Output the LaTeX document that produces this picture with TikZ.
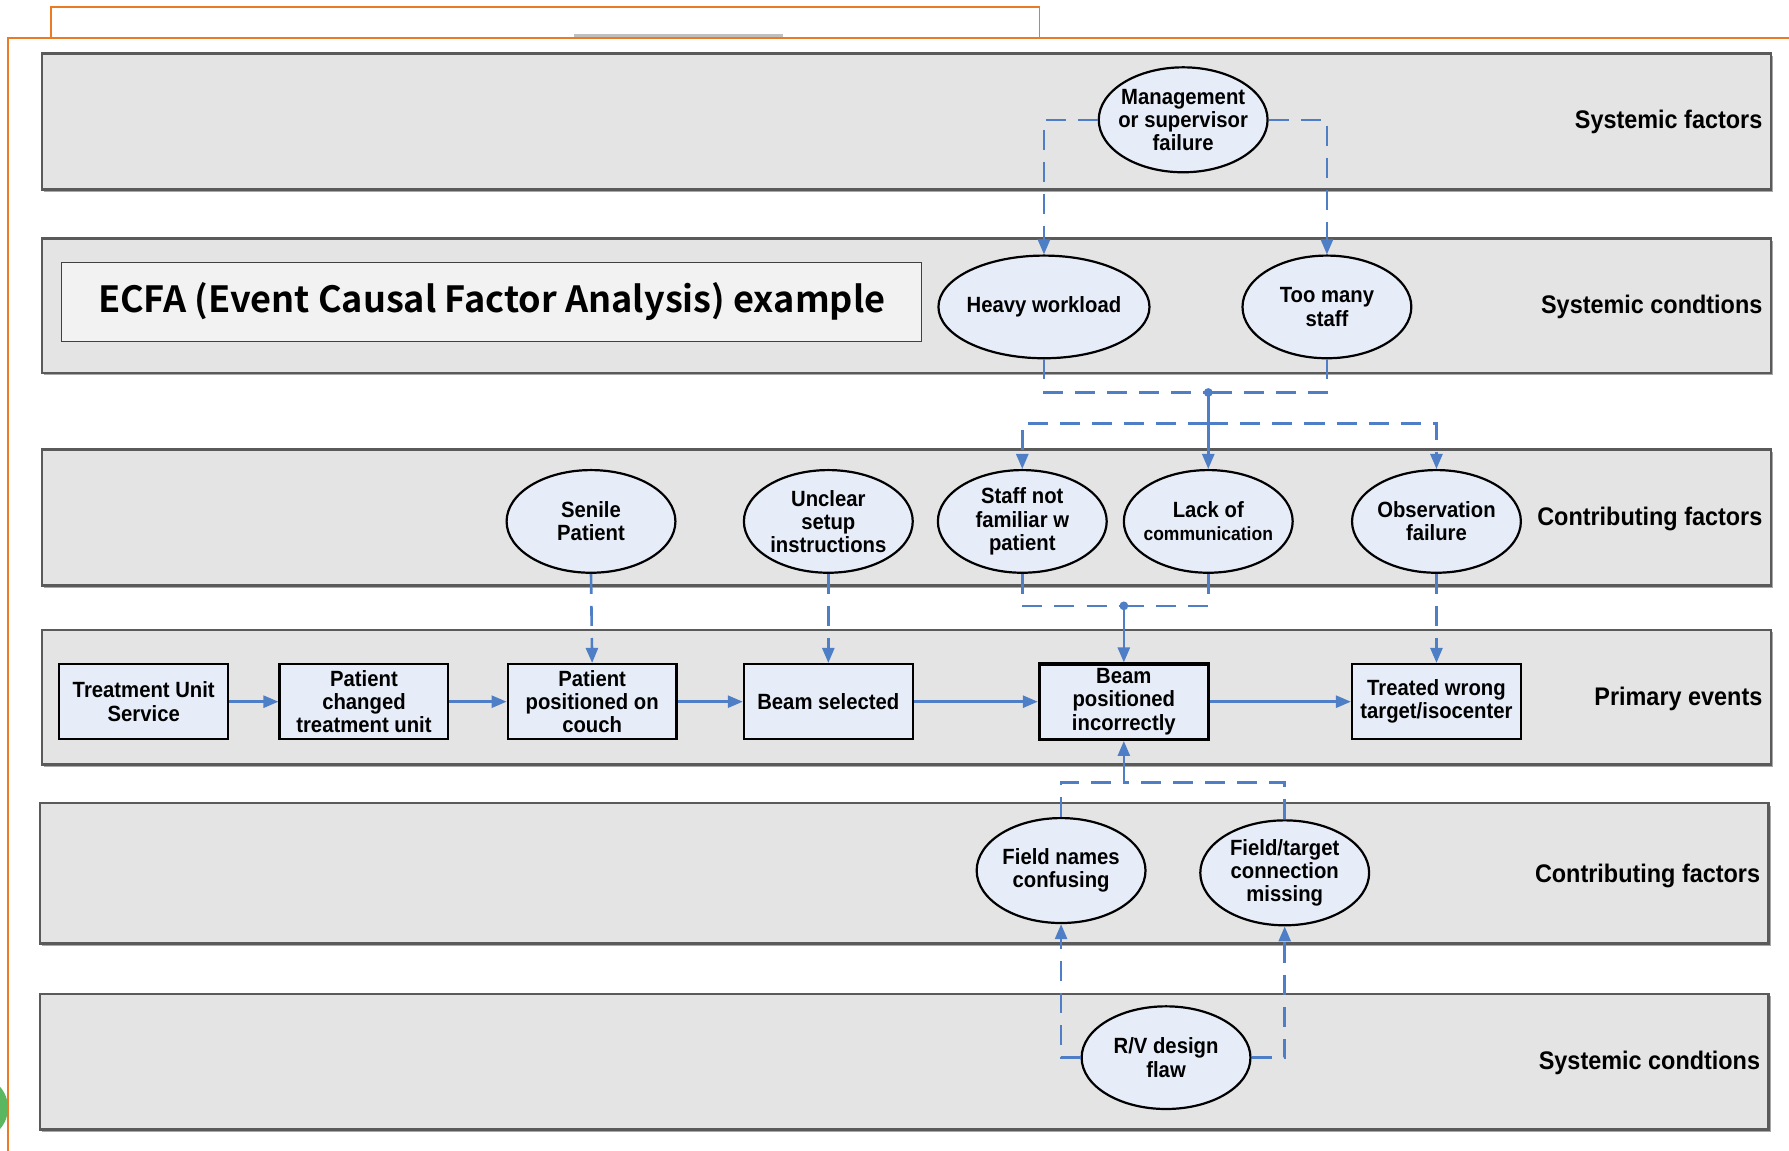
\documentclass[tikz,border=0pt]{standalone}
\usepackage{fontspec}
\setmainfont{Liberation Sans}[FakeStretch=0.92]
\newfontfamily\titlefont{Noto Sans CJK KR}[BoldFont={Noto Sans CJK KR Bold}]
\usetikzlibrary{shapes.geometric,arrows.meta}
\definecolor{lanefill}{HTML}{E4E4E4}
\definecolor{lanedraw}{HTML}{5A5A5A}
\definecolor{laneshadow}{HTML}{A8A8A8}
\definecolor{nodefill}{HTML}{E7EDF8}
\definecolor{linkblue}{HTML}{4E7EC6}
\definecolor{frameorange}{HTML}{EB7A25}
\definecolor{dotgreen}{HTML}{5BB75F}
\begin{document}
\begin{tikzpicture}[x=0.02cm,y=-0.02cm,
  >={Triangle[length=7.5pt,width=6pt]},
  lane/.style={fill=lanefill,draw=lanedraw,line width=1.2pt},
  lanelabel/.style={anchor=east,inner sep=0pt,font=\fontsize{12.7}{14}\selectfont\bfseries},
  cause/.style={ellipse,draw=black,line width=1.1pt,fill=nodefill,
    minimum width=2.96cm,minimum height=1.8cm,inner xsep=-0.5cm,inner ysep=-0.3cm,
    align=center,font=\fontsize{11}{11.6}\selectfont\bfseries},
  event/.style={rectangle,draw=black,line width=1.1pt,fill=nodefill,
    minimum width=2.96cm,minimum height=1.32cm,inner sep=0pt,align=center,
    font=\fontsize{11}{11.6}\selectfont\bfseries},
  link/.style={draw=linkblue,line width=1.3pt},
  dlink/.style={link,dash pattern=on 10pt off 6pt},
  jdot/.style={fill=linkblue}
]
\useasboundingbox (0,0) rectangle (1568,1008);

% outer frames
\draw[frameorange,line width=0.9pt] (45,33) -- (45,6) -- (911,6) -- (911,33);
\draw[black!25,line width=1.2pt] (503,31) -- (686,31);
\draw[frameorange,line width=0.9pt] (7,1015) -- (7,33) -- (1575,33);
\fill[dotgreen] (-21,971) circle (0.56cm);

% swim lanes
\foreach \t/\b/\l/\r in {47/166/37/1552, 209/327/37/1552, 394/513/37/1552,
                         552/670/37/1552, 704/827/35/1550, 871/990/35/1550}{
  \fill[laneshadow] (\l+2,\t+2) rectangle (\r+2,\b+2);
  \draw[lane] (\l,\t) rectangle (\r,\b);
}
\node[lanelabel] (lbl1) at (1545,107) {Systemic factors};
\node[lanelabel] (lbl2) at (1545,269) {Systemic condtions};
\node[lanelabel] (lbl3) at (1545,455) {Contributing factors};
\node[lanelabel] (lbl4) at (1545,613) {Primary events};
\node[lanelabel] (lbl5) at (1543,768) {Contributing factors};
\node[lanelabel] (lbl6) at (1543,932) {Systemic condtions};

% title
\node[draw=black!75,fill=black!5,line width=0.6pt,minimum width=15.08cm,
  minimum height=1.38cm,inner sep=0pt,
  font=\titlefont\bfseries\fontsize{18}{20}\selectfont] (title) at (431,264.5)
  {ECFA (Event Causal Factor Analysis) example};

% causal factors
\node[cause,minimum height=1.84cm] (mgmt) at (1037,105) {Management\\or supervisor\\failure};
\node[cause,minimum width=3.7cm] (heavy) at (915,269) {Heavy workload};
\node[cause] (many) at (1163,269) {Too many\\staff};
\node[cause] (senile) at (518,457) {Senile\\Patient};
\node[cause] (unclear) at (726,457) {Unclear\\setup\\instructions};
\node[cause] (staff) at (896,457) {Staff not\\familiar w\\patient};
\node[cause] (lack) at (1059,457) {Lack of\\{\fontsize{9.5}{11.6}\selectfont communication}};
\node[cause] (obs) at (1259,457) {Observation\\failure};
\node[cause,minimum height=1.84cm] (names) at (930,763) {Field names\\confusing};
\node[cause,minimum height=1.84cm] (ftc) at (1126,765) {Field/target\\connection\\missing};
\node[cause] (rv) at (1022,927) {R/V design\\flaw};

% primary events
\node[event] (tus) at (126,615) {Treatment Unit\\Service};
\node[event] (pctu) at (319,615) {Patient\\changed\\treatment unit};
\node[event] (ppc) at (519,615) {Patient\\positioned on\\couch};
\node[event] (bs) at (726,615) {Beam selected};
\node[event,line width=1.6pt] (bpi) at (985,615) {Beam\\positioned\\incorrectly};
\node[event] (twt) at (1259,615) {Treated wrong\\target/isocenter};

% junction points
\coordinate (j1) at (1059,344);
\coordinate (j2) at (1059,371);
\coordinate (j3) at (985,531);
\coordinate (j4) at (985,686);

% event chain
\draw[link,->] (tus) -- (pctu);
\draw[link,->] (pctu) -- (ppc);
\draw[link,->] (ppc) -- (bs);
\draw[link,->] (bs) -- (bpi);
\draw[link,->] (bpi) -- (twt);

% upper causal links
\draw[dlink,->] (mgmt.west) -| (heavy.north);
\draw[dlink,->] (mgmt.east) -| (many.north);
\draw[dlink] (heavy.south) |- (j1);
\draw[dlink] (many.south) |- (j1);
\draw[link,->] (j1) -- (lack.north);
\draw[dlink,->] (j2) -| (staff.north);
\draw[dlink,->] (j2) -| (obs.north);
\fill[jdot] (j1) circle (2.2pt);

\draw[dlink,->] (senile.south) -- (ppc.north);
\draw[dlink,->] (unclear.south) -- (bs.north);
\draw[dlink] (staff.south) |- (j3);
\draw[dlink] (lack.south) |- (j3);
\draw[link,->] (j3) -- (bpi.north);
\fill[jdot] (j3) circle (2.2pt);
\draw[dlink,->] (obs.south) -- (twt.north);

% lower causal links
\draw[dlink] (names.north) |- (j4);
\draw[dlink] (ftc.north) |- (j4);
\draw[link,->] (j4) -- (bpi.south);
\draw[dlink,->] (rv.west) -| (names.south);
\draw[dlink,->] (rv.east) -| (ftc.south);
\end{tikzpicture}
\end{document}
